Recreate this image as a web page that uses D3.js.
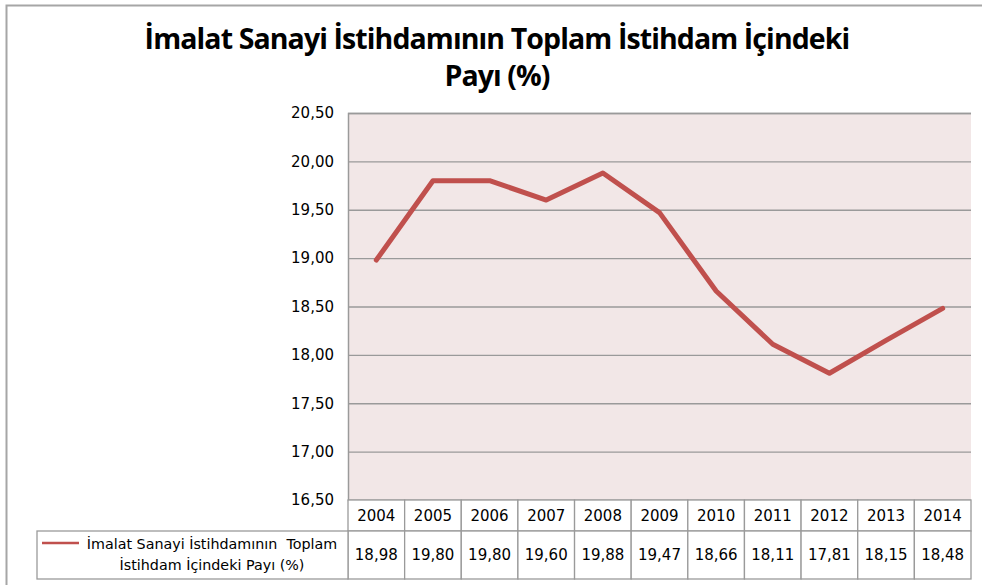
<!DOCTYPE html>
<html>
<head>
<meta charset="utf-8">
<script src="https://cdn.jsdelivr.net/npm/d3@7"></script>
<style>
  body { margin: 0; background: #fff; }
  text { font-family: "DejaVu Sans", Verdana, sans-serif; }
</style>
</head>
<body>
<svg id="chart"></svg>
<script>
const years = ['2004', '2005', '2006', '2007', '2008', '2009', '2010', '2011', '2012', '2013', '2014'];
const shares = [18.98, 19.80, 19.80, 19.60, 19.88, 19.47, 18.66, 18.11, 17.81, 18.15, 18.48];
const yTicks = [16.5, 17, 17.5, 18, 18.5, 19, 19.5, 20, 20.5];
const seriesName = ['İmalat Sanayi İstihdamının  Toplam', 'İstihdam İçindeki Payı (%)'];
const titleLines = ['İmalat Sanayi İstihdamının Toplam İstihdam İçindeki', 'Payı (%)'];

const width = 982;
const height = 585;
const plot = {left: 348, right: 971, top: 113, bottom: 500};
const rowHead = 31;
const rowVal = 48;
const legendLeft = 37;

const fmt = v => d3.format('.2f')(v).replace('.', ',');

const svg = d3.select('#chart')
  .attr('width', width)
  .attr('height', height);

// outer chart frame
svg.append('rect')
  .attr('x', 6.5).attr('y', 5.5)
  .attr('width', width).attr('height', height)
  .attr('fill', 'none')
  .attr('stroke', '#a6a6a6')
  .attr('stroke-width', 2);

// title
const title = svg.append('g');
titleLines.forEach((line, i) => {
  title.append('text')
    .text(line)
    .attr('x', 497)
    .attr('y', 49 + i * 37)
    .attr('text-anchor', 'middle')
    .style('font-family', '"Open Sans", sans-serif')
    .style('font-weight', 'bold')
    .style('font-size', '28.5px')
    .style('letter-spacing', '-0.9px')
    .attr('fill', '#000');
});

const xScale = d3.scaleBand()
  .domain(years)
  .range([plot.left, plot.right]);

const yScale = d3.scaleLinear()
  .domain([16.5, 20.5])
  .range([plot.bottom, plot.top]);

// plot background
svg.append('rect')
  .attr('x', plot.left).attr('y', plot.top)
  .attr('width', plot.right - plot.left)
  .attr('height', plot.bottom - plot.top)
  .attr('fill', '#f2e7e7');

// gridlines + y labels
const yAxis = d3.axisLeft(yScale)
  .tickValues(yTicks)
  .tickSize(-(plot.right - plot.left))
  .tickPadding(14)
  .tickFormat(fmt);

const yAxisG = svg.append('g')
  .attr('transform', `translate(${plot.left}, 0)`)
  .call(yAxis);
yAxisG.select('.domain').attr('stroke', '#9a9a9a').attr('stroke-width', 1.5);
yAxisG.selectAll('.tick line').attr('stroke', '#9a9a9a').attr('stroke-width', 1.3);
yAxisG.selectAll('.tick text')
  .style('font-size', '15px')
  .style('font-family', '"DejaVu Sans", Verdana, sans-serif')
  .attr('fill', '#000');

// line
const line = d3.line()
  .x((d, i) => xScale(years[i]) + xScale.bandwidth() / 2)
  .y(d => yScale(d));

svg.append('path')
  .datum(shares)
  .attr('d', line)
  .attr('fill', 'none')
  .attr('stroke', '#c0504d')
  .attr('stroke-width', 5)
  .attr('stroke-linejoin', 'round')
  .attr('stroke-linecap', 'round');

// data table
const table = svg.append('g');
const gridColor = '#9a9a9a';

table.selectAll('.hcell')
  .data(years)
  .enter()
  .append('rect')
  .attr('x', d => xScale(d))
  .attr('y', plot.bottom)
  .attr('width', xScale.bandwidth())
  .attr('height', rowHead)
  .attr('fill', '#fff')
  .attr('stroke', gridColor)
  .attr('stroke-width', 1.3);

table.selectAll('.vcell')
  .data(years)
  .enter()
  .append('rect')
  .attr('x', d => xScale(d))
  .attr('y', plot.bottom + rowHead)
  .attr('width', xScale.bandwidth())
  .attr('height', rowVal)
  .attr('fill', '#fff')
  .attr('stroke', gridColor)
  .attr('stroke-width', 1.3);

table.append('rect')
  .attr('x', legendLeft)
  .attr('y', plot.bottom + rowHead)
  .attr('width', plot.left - legendLeft)
  .attr('height', rowVal)
  .attr('fill', '#fff')
  .attr('stroke', gridColor)
  .attr('stroke-width', 1.3);

table.selectAll('.ylab')
  .data(years)
  .enter()
  .append('text')
  .text(d => d)
  .attr('x', d => xScale(d) + xScale.bandwidth() / 2)
  .attr('y', plot.bottom + rowHead / 2 + 5)
  .attr('text-anchor', 'middle')
  .style('font-size', '15px')
  .attr('fill', '#000');

table.selectAll('.vlab')
  .data(shares)
  .enter()
  .append('text')
  .text(d => fmt(d))
  .attr('x', (d, i) => xScale(years[i]) + xScale.bandwidth() / 2)
  .attr('y', plot.bottom + rowHead + rowVal / 2 + 5)
  .attr('text-anchor', 'middle')
  .style('font-size', '15px')
  .attr('fill', '#000');

// legend key
table.append('line')
  .attr('x1', 42).attr('x2', 79)
  .attr('y1', plot.bottom + rowHead + 12)
  .attr('y2', plot.bottom + rowHead + 12)
  .attr('stroke', '#c0504d')
  .attr('stroke-width', 2.5);

seriesName.forEach((s, i) => {
  table.append('text')
    .text(s)
    .attr('x', 212)
    .attr('y', plot.bottom + rowHead + 18 + i * 21)
    .attr('text-anchor', 'middle')
    .style('font-size', '14.3px')
    .style('white-space', 'pre')
    .attr('fill', '#000');
});
</script>
</body>
</html>
